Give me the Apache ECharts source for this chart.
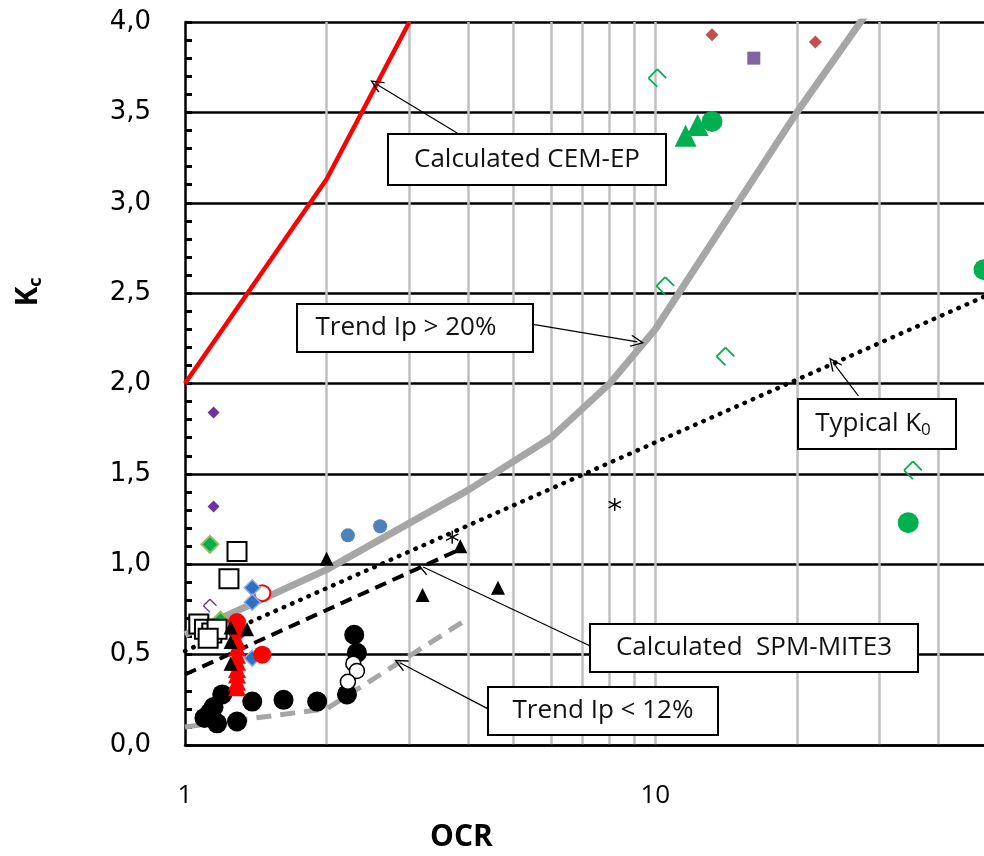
<!DOCTYPE html>
<html>
<head>
<meta charset="utf-8">
<script src="https://cdn.jsdelivr.net/npm/echarts@6/dist/echarts.min.js"></script>
<style>
  html, body { margin: 0; padding: 0; background: #fff; }
  #chart { width: 984px; height: 856px; }
</style>
</head>
<body>
<div id="chart"></div>
<script>
// axis ticks
const xLabelTicks = [1, 10]
const xGridLines = [2, 3, 4, 5, 6, 7, 8, 9, 10, 20, 30, 40]

// curves [OCR, Kc]
const cemEp = [[1, 2.0], [2, 3.13], [3, 4.0]]
const trendHigh = [[1, 0.61], [2, 0.97], [4, 1.41], [6, 1.70], [8, 2.0], [10, 2.30], [20, 3.50], [30, 4.15]]
const typicalK0 = [[1, 0.52], [50, 2.48]]
const spmMite3 = [[1, 0.39], [3.9, 1.09]]
const trendLow = [[1, 0.10], [2, 0.20], [4, 0.70]]

// measured points [OCR, Kc]
const purpleDiamonds = [[1.15, 1.84], [1.15, 1.32]]
const purpleOpen = [[1.13, 0.77]]
const greenDiamonds = [[1.13, 1.11], [1.19, 0.69]]
const openSquares = [[1.29, 1.07], [1.24, 0.92], [1.07, 0.67], [1.10, 0.64], [1.14, 0.62], [1.17, 0.64], [1.12, 0.59]]
const blueDiamonds = [[1.39, 0.87], [1.39, 0.79], [1.39, 0.48]]
const redOpenCircles = [[1.46, 0.84]]
const redCircles = [[1.29, 0.68], [1.29, 0.63], [1.46, 0.50]]
const redTriangles = [[1.29, 0.58], [1.29, 0.54], [1.29, 0.50], [1.29, 0.46], [1.29, 0.42], [1.29, 0.39], [1.29, 0.35], [1.29, 0.32]]
const blackTriangles = [[1.25, 0.65], [1.355, 0.64], [1.25, 0.57], [1.25, 0.45], [2.0, 1.03], [3.2, 0.83], [4.63, 0.87], [3.85, 1.10]]
const asterisks = [[3.7, 1.15], [8.2, 1.33]]
const blackCircles = [[1.20, 0.28], [1.15, 0.21], [1.10, 0.15], [1.13, 0.18], [1.17, 0.12], [1.29, 0.13], [1.39, 0.24], [1.62, 0.25], [1.91, 0.24], [2.21, 0.28], [2.29, 0.61], [2.32, 0.51]]
const openCircles = [[2.28, 0.45], [2.32, 0.41], [2.22, 0.35]]
const blueCircles = [[2.22, 1.16], [2.6, 1.21]]
const greenOpen = [[10.1, 3.69], [10.5, 2.54], [14.1, 2.15], [35.3, 1.52]]
const greenCircles = [[13.2, 3.45], [34.5, 1.23], [50, 2.63]]
const greenTriangles = [[11.6, 3.37], [12.3, 3.43]]
const brownDiamonds = [[13.2, 3.93], [21.9, 3.89]]
const purpleSquares = [[16.2, 3.80]]

// callouts: text, box centre, arrow from -> to
const notes = [
  { text: 'Calculated CEM-EP', at: [5.34, 3.234], from: [3.79, 3.386], to: [2.55, 3.657], w: 278, h: 51, dx: 0 },
  { text: 'Trend Ip > 20%', at: [3.087, 2.307], from: [5.42, 2.33], to: [9.16, 2.23], w: 236, h: 48, dx: -9 },
  { text: '{t|Typical K}{s|0}', at: [29.68, 1.776], from: [27.04, 1.931], to: [23.92, 2.113], w: 158, h: 50, dx: -4 },
  { text: 'Calculated  SPM-MITE3', at: [16.24, 0.537], from: [7.27, 0.548], to: [3.21, 0.985], w: 328, h: 48, dx: 0 },
  { text: 'Trend Ip < 12%', at: [7.75, 0.188], from: [4.41, 0.20], to: [2.87, 0.454], w: 230, h: 48, dx: 0 }
]

const openMark = 'path://M-0.71,9.29L9.29,-0.71L10.71,0.71L0.71,10.71ZM10.71,-0.71L20.71,9.29L19.29,10.71L9.29,0.71ZM0.71,9.29L10.71,19.29L9.29,20.71L-0.71,10.71Z'
const starMark = 'path://M-1,-10L1,-10L1,10L-1,10ZM8.16,-5.87L9.16,-4.13L-8.16,5.87L-9.16,4.13ZM-9.16,-4.13L-8.16,-5.87L9.16,4.13L8.16,5.87Z'
const arrowHead = 'path://M10,0L20,14L18.3,15.2L10,3.4L1.7,15.2L0,14Z'

const chart = echarts.init(document.getElementById('chart'))

function pts(name, data, symbol, size, style) {
  return { name, type: 'scatter', data, symbol, symbolSize: size, itemStyle: Object.assign({ opacity: 1 }, style), z: 4, silent: true }
}
function curve(name, data, style) {
  return { name, type: 'line', data, showSymbol: false, symbol: 'none', lineStyle: style, z: 3, silent: true }
}

const titles = [
  { type: 'text', left: 430, top: 822, style: { text: 'OCR', fill: '#000', font: 'bold 30px "Open Sans"' } },
  {
    type: 'text', x: 28, y: 292, rotation: Math.PI / 2,
    style: {
      text: '{k|K}{c|c}', align: 'center', verticalAlign: 'middle',
      rich: {
        k: { fontFamily: 'Open Sans', fontWeight: 'bold', fontSize: 30, fill: '#000', color: '#000', lineHeight: 34 },
        c: { fontFamily: 'Open Sans', fontWeight: 'bold', fontSize: 18, fill: '#000', color: '#000', lineHeight: 34, verticalAlign: 'bottom' }
      }
    }
  }
]

chart.setOption({
  animation: false,
  grid: { left: 185, right: 0, top: 22, bottom: 111 },
  xAxis: {
    type: 'log', min: 1, max: 50,
    axisLine: { lineStyle: { color: '#000', width: 2.5 } },
    axisTick: { show: false },
    splitLine: { show: false },
    axisLabel: {
      color: '#000', fontFamily: 'Open Sans', fontSize: 26, margin: 38, showMaxLabel: false,
      formatter: (v) => (xLabelTicks.includes(v) ? String(v) : '')
    }
  },
  yAxis: {
    type: 'value', min: 0, max: 4, interval: 0.5,
    axisLine: { show: true, lineStyle: { color: '#000', width: 2.5 } },
    axisTick: { show: true, inside: true, length: 7, lineStyle: { color: '#000', width: 3 } },
    minorTick: { show: true, splitNumber: 5, length: 7, lineStyle: { color: '#000', width: 3 } },
    splitLine: { lineStyle: { color: '#000', width: 2.5 } },
    axisLabel: {
      color: '#000', fontFamily: 'DejaVu Sans', fontSize: 26, margin: 34,
      formatter: (v) => v.toFixed(1).replace('.', ',')
    }
  },
  graphic: titles,
  series: [
    {
      type: 'line', data: [], silent: true,
      markLine: {
        silent: true, z: 0, symbol: 'none', animation: false,
        label: { show: false },
        lineStyle: { color: '#bfbfbf', width: 2.5, type: 'solid' },
        data: xGridLines.map((v) => ({ xAxis: v }))
      }
    },
    curve('Calculated CEM-EP', cemEp, { color: '#ff0000', width: 4.5 }),
    curve('Trend Ip > 20%', trendHigh, { color: '#a6a6a6', width: 7 }),
    curve('Typical K0', typicalK0, { color: '#000', width: 4.5, type: [0.5, 8.5], cap: 'round' }),
    curve('Calculated SPM-MITE3', spmMite3, { color: '#000', width: 4, type: [12, 7] }),
    curve('Trend Ip < 12%', trendLow, { color: '#a6a6a6', width: 5, type: [15, 9] }),

    pts('purple diamonds', purpleDiamonds, 'diamond', 12, { color: '#7030a0' }),
    pts('purple open', purpleOpen, openMark, 14, { color: '#7030a0' }),
    pts('green diamonds', greenDiamonds, 'diamond', 17, { color: '#00b050', borderColor: '#9bbb59', borderWidth: 2 }),
    pts('open squares', openSquares, 'rect', 19, { color: '#fff', borderColor: '#000', borderWidth: 2 }),
    pts('black circles', blackCircles, 'circle', 20, { color: '#000' }),
    pts('open circles', openCircles, 'circle', 15, { color: '#fff', borderColor: '#000', borderWidth: 1.5 }),
    pts('red open circles', redOpenCircles, 'circle', 16, { color: '#fff', borderColor: '#ff0000', borderWidth: 2 }),
    pts('blue diamonds', blueDiamonds, 'diamond', 16, { color: '#2e6fc4', borderColor: '#8db3e2', borderWidth: 1.5 }),
    pts('red triangles', redTriangles, 'triangle', 18, { color: '#ff0000' }),
    pts('red circles', redCircles, 'circle', 18, { color: '#ff0000' }),
    pts('black triangles', blackTriangles, 'triangle', 14, { color: '#000' }),
    pts('asterisks', asterisks, starMark, 13, { color: '#000' }),
    pts('blue circles', blueCircles, 'circle', 14, { color: '#4f81bd' }),
    pts('green open', greenOpen, openMark, 19, { color: '#00b050' }),
    pts('green circles', greenCircles, 'circle', 21, { color: '#00b050' }),
    pts('green triangles', greenTriangles, 'triangle', 22, { color: '#00b050' }),
    pts('brown diamonds', brownDiamonds, 'diamond', 13, { color: '#c0504d' }),
    pts('purple squares', purpleSquares, 'rect', 13, { color: '#8064a2' }),

    {
      name: 'arrows', type: 'line', data: [], silent: true,
      markLine: {
        silent: true, z: 5, animation: false,
        symbol: ['none', arrowHead], symbolSize: [12, 14],
        label: { show: false },
        lineStyle: { color: '#000', width: 1.2, type: 'solid' },
        data: notes.map((n) => [{ coord: n.from }, { coord: n.to }])
      }
    }
  ]
})

// callout boxes placed through the chart's own scales
const boxes = []
notes.forEach((n) => {
  const p = chart.convertToPixel({ gridIndex: 0 }, n.at)
  const cx = Math.round(p[0])
  const cy = Math.round(p[1])
  boxes.push({
    type: 'rect', z: 100, silent: true,
    shape: { x: cx - Math.round(n.w / 2), y: cy - Math.round(n.h / 2), width: n.w, height: n.h },
    style: { fill: '#fff', stroke: '#000', lineWidth: 2 }
  })
  boxes.push({
    type: 'text', z: 101, silent: true, x: cx + n.dx, y: cy,
    style: {
      text: n.text, align: 'center', verticalAlign: 'middle',
      font: '26px "Open Sans"', fill: '#111',
      rich: {
        t: { fontFamily: 'Open Sans', fontSize: 26, fill: '#111', color: '#111', lineHeight: 30 },
        s: { fontFamily: 'Open Sans', fontSize: 17, fill: '#111', color: '#111', lineHeight: 30, verticalAlign: 'bottom' }
      }
    }
  })
})
chart.setOption({ graphic: titles.concat(boxes) })
</script>
</body>
</html>
